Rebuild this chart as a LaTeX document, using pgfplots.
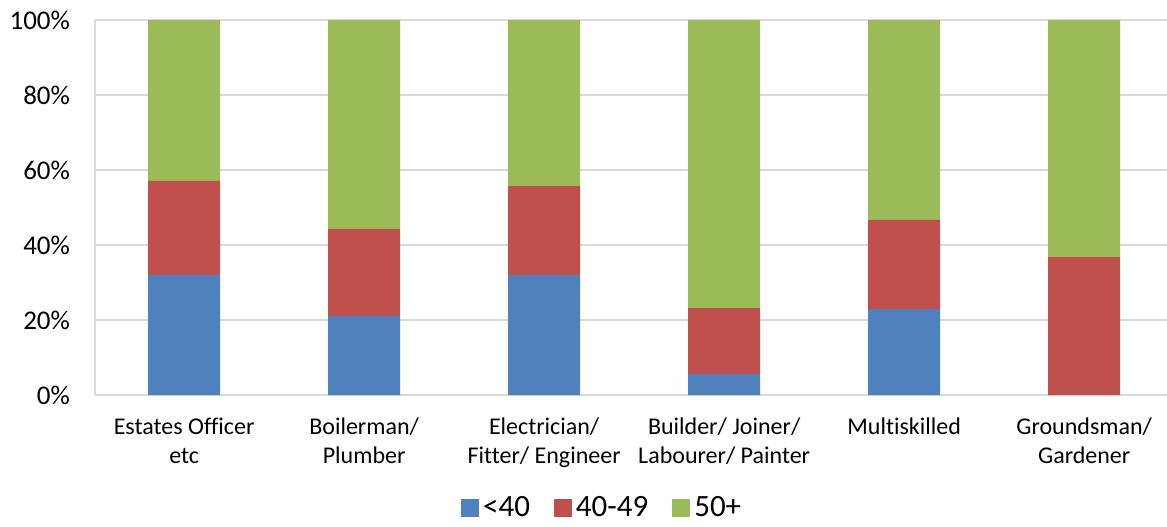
\documentclass[border=0pt]{standalone}
\usepackage{pgfplots}
\pgfplotsset{compat=1.18}
\usepackage{fontspec}
\setmainfont{Carlito}[Ligatures=NoCommon]
\definecolor{cBlue}{HTML}{4F81BD}
\definecolor{cRed}{HTML}{C0504D}
\definecolor{cGreen}{HTML}{9BBB59}
\definecolor{gridgray}{HTML}{D9D9D9}
\begin{document}
\begin{tikzpicture}
\begin{axis}[
  scale only axis, width=536pt, height=187.5pt,
  ybar stacked, bar width=36pt,
  xmin=-0.495, xmax=5.46, ymin=0, ymax=100,
  xtick={0,1,2,3,4,5},
  xticklabels={{Estates Officer\\etc},{Boilerman/\\Plumber},{Electrician/\\Fitter/ Engineer},{Builder/ Joiner/\\Labourer/ Painter},{Multiskilled},{Groundsman/\\Gardener}},
  xticklabel style={align=center, font=\fontsize{12}{14.5}\selectfont, yshift=-8pt},
  ytick={0,20,40,60,80,100},
  yticklabel={\pgfmathprintnumber{\tick}\%},
  yticklabel style={font=\fontsize{13.5}{15}\selectfont, xshift=-9pt},
  /pgf/number format/assume math mode=true,
  ymajorgrids, grid style={draw=gridgray, line width=0.7pt},
  axis x line*=bottom, axis y line*=left,
  axis line style={draw=gridgray, line width=0.7pt},
  major tick length=0pt,
  legend style={at={(0.474,-0.302)}, anchor=center, legend columns=-1, draw=none,
    font=\fontsize{15.5}{17}\selectfont, inner sep=1pt,
    /tikz/every even column/.append style={column sep=10pt}},
  legend image code/.code={\fill[#1] (0pt,-4.5pt) rectangle (9pt,4.5pt);},
]
\addplot[fill=cBlue, draw=none] coordinates {(0,32) (1,21.1) (2,32) (3,5.6) (4,22.9) (5,0)};
\addplot[fill=cRed, draw=none] coordinates {(0,25.1) (1,23.2) (2,23.7) (3,17.6) (4,23.8) (5,36.8)};
\addplot[fill=cGreen, draw=none] coordinates {(0,42.9) (1,55.7) (2,44.3) (3,76.8) (4,53.3) (5,63.2)};
\legend{<40, 40-49, 50+}
\end{axis}
\pgfresetboundingbox
\useasboundingbox (-47.5pt,-65.5pt) rectangle (536pt,197.5pt);
\end{tikzpicture}
\end{document}
